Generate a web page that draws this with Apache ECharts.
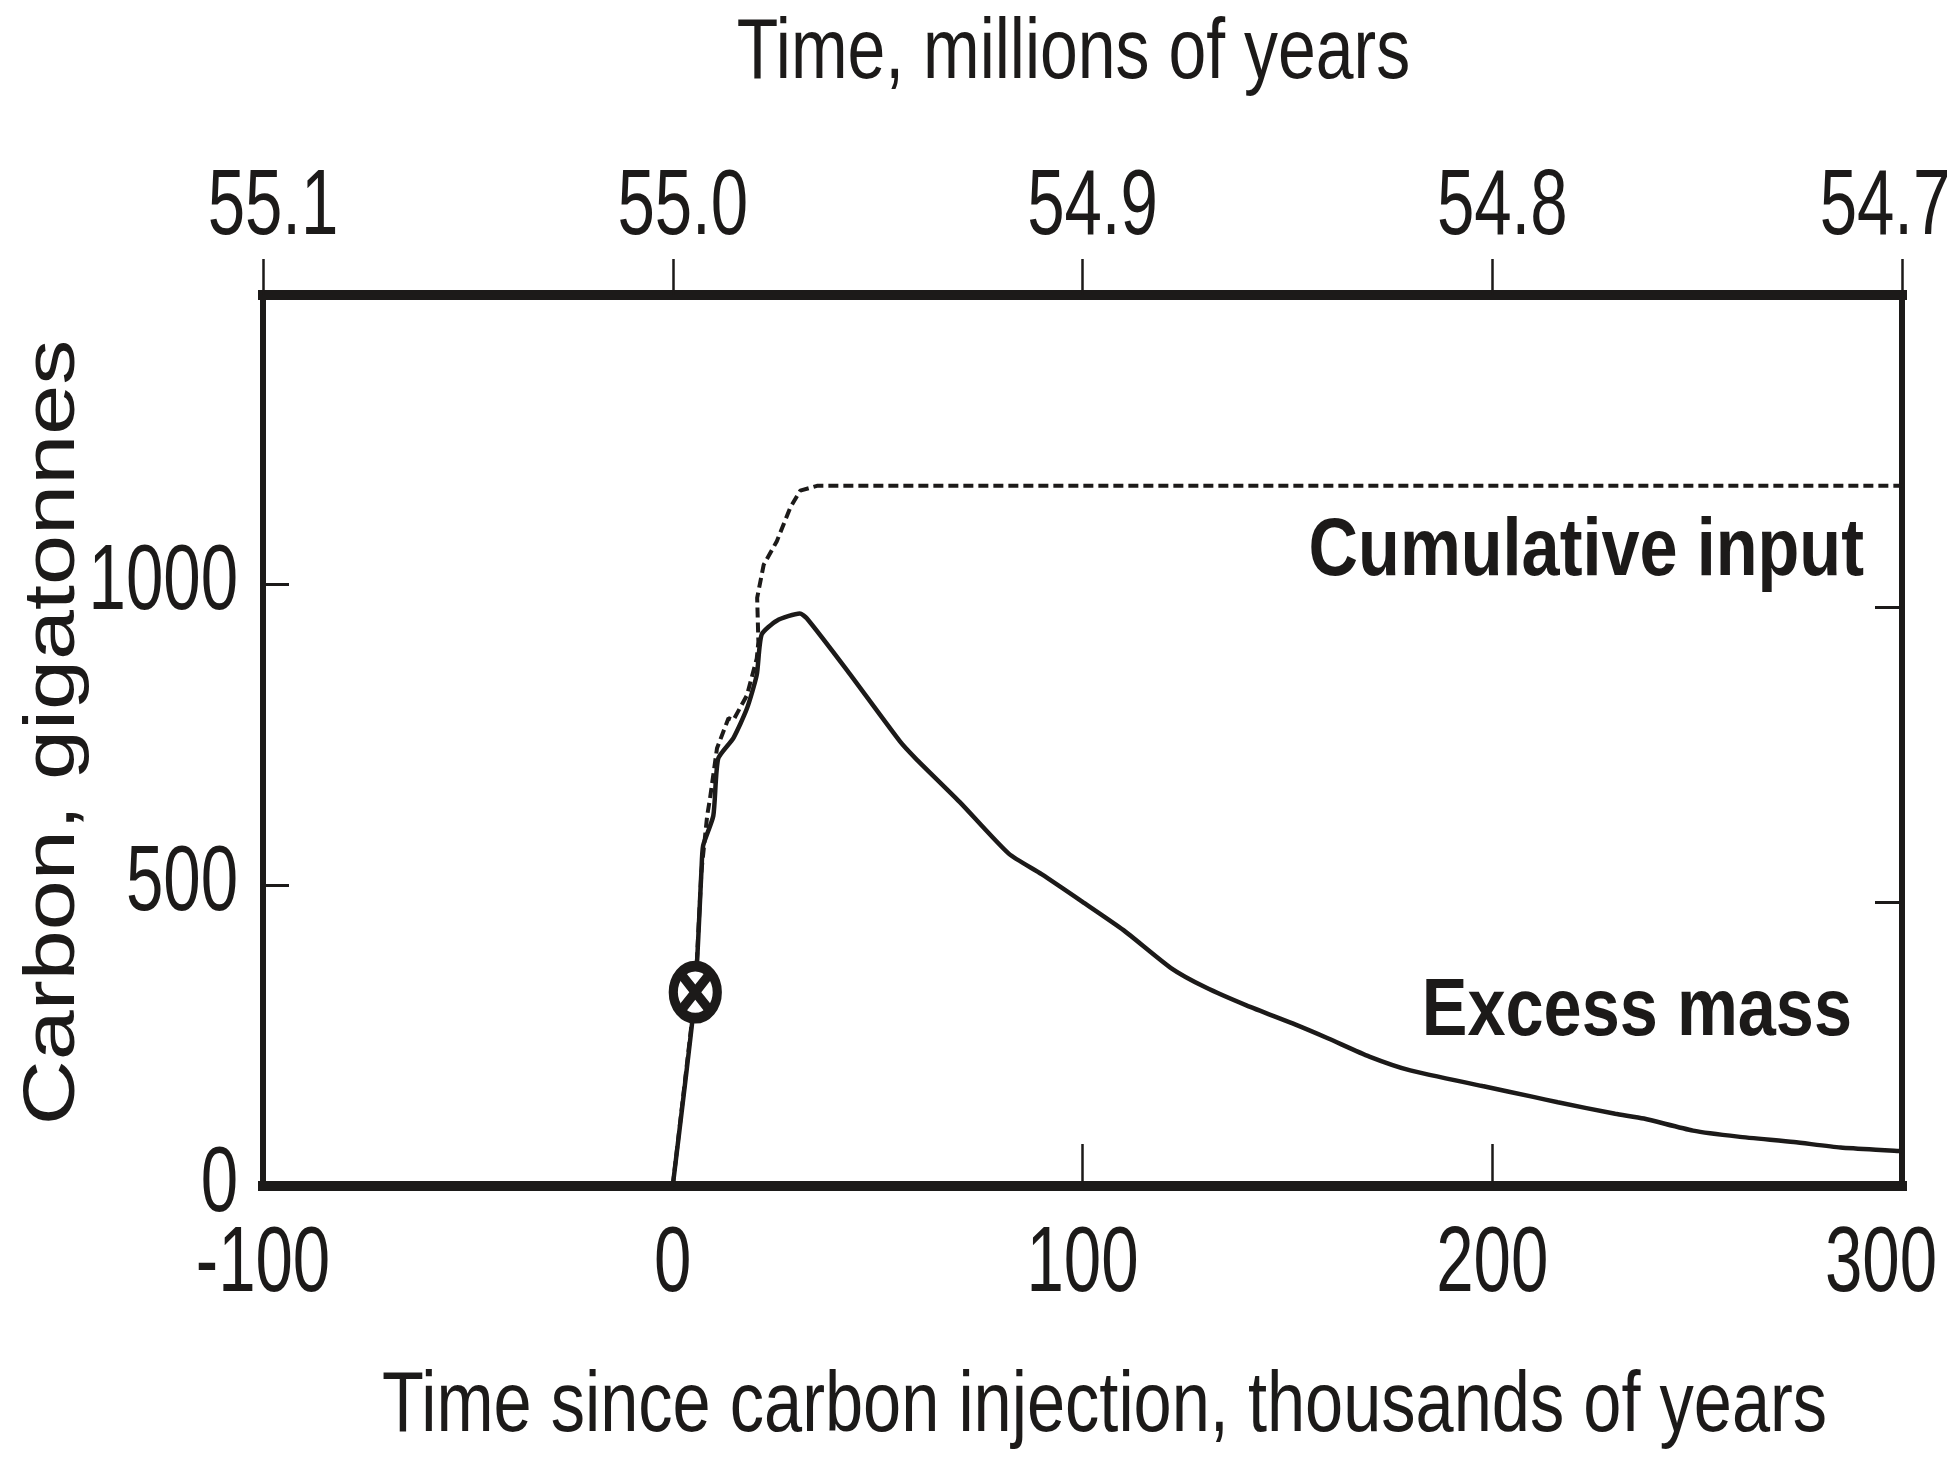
<!DOCTYPE html>
<html>
<head>
<meta charset="utf-8">
<title>Carbon, gigatonnes</title>
<script src="https://cdn.jsdelivr.net/npm/echarts@6/dist/echarts.min.js"></script>
<style>
  html, body { margin: 0; padding: 0; background: #fff; }
  #chart { width: 1953px; height: 1458px; }
</style>
</head>
<body>
<div id="chart"></div>
<script>
// time since injection (kyr) and carbon (Gt)
var excessT = [0, 3, 5.5, 7, 7.4, 9.9, 11.1, 14.8, 18.1, 20.5, 21.7, 25.4, 31, 32.7, 42.6, 55.5, 59.3, 70, 82, 90, 100, 110, 121.6, 130, 140, 152, 160, 170, 180, 197.6, 210, 216, 230, 237, 249, 260, 273.6, 285, 300];
var excessC = [0, 170, 322, 523, 565, 615, 710, 744, 793, 849, 916, 939, 951, 943, 856, 738, 710, 638, 552, 518, 472, 425, 362, 330, 300, 268, 245, 215, 192, 166, 148, 139, 120, 112, 92, 82, 73, 64, 58];

var cumT = [0, 5.5, 7, 8.4, 9.1, 10.8, 13.6, 14.8, 18.1, 20.5, 20.9, 20.6, 22.2, 25.4, 28.7, 31.1, 35.2, 300];
var cumC = [0, 322, 523, 615, 644, 727, 777, 774, 815, 876, 904, 977, 1032, 1071, 1127, 1155, 1163, 1163];

var markerT = [5.5];
var markerC = [322];

var bottomTicks = [-100, 0, 100, 200, 300];
var topTickLabels = ["55.1", "55.0", "54.9", "54.8", "54.7"];
var leftTicks = [0, 500, 1000];
var rightTicks = [471, 962];

function zip(a, b) {
  var out = [];
  for (var i = 0; i < a.length; i++) out.push([a[i], b[i]]);
  return out;
}

window.onload = function () {
  var ink = "#1c1a19";
  var sans = "'Liberation Sans', Arial, sans-serif";
  var myChart = echarts.init(document.getElementById("chart"));

  var option = {
    backgroundColor: "#fff",
    animation: false,
    grid: { left: 263, right: 51, top: 295, bottom: 272, outerBoundsMode: "none" },
    xAxis: [
      {
        type: "value",
        position: "bottom",
        min: -100,
        max: 300,
        interval: 100,
        axisLine: { onZero: false, lineStyle: { color: ink, width: 10, cap: "square" } },
        axisTick: { inside: true, length: 42, customValues: [100, 200], lineStyle: { color: ink, width: 2.5 } },
        axisLabel: { show: false },
        splitLine: { show: false },
      },
      {
        type: "value",
        position: "top",
        min: -100,
        max: 300,
        interval: 100,
        axisLine: { onZero: false, lineStyle: { color: ink, width: 10, cap: "square" } },
        axisTick: { inside: false, length: 36, lineStyle: { color: ink, width: 2.5 } },
        axisLabel: { show: false },
        splitLine: { show: false },
      },
    ],
    yAxis: [
      {
        type: "value",
        position: "left",
        min: 0,
        max: 1480,
        interval: 500,
        axisLine: { onZero: false, lineStyle: { color: ink, width: 6, cap: "square" } },
        axisTick: { inside: true, length: 26, customValues: [500, 1000], lineStyle: { color: ink, width: 3 } },
        axisLabel: { show: false },
        splitLine: { show: false },
      },
      {
        type: "value",
        position: "right",
        min: 0,
        max: 1480,
        axisLine: { onZero: false, lineStyle: { color: ink, width: 6, cap: "square" } },
        axisTick: { inside: true, length: 27, customValues: rightTicks, lineStyle: { color: ink, width: 3 } },
        axisLabel: { show: false },
        splitLine: { show: false },
      },
    ],
    series: [
      {
        name: "Cumulative input",
        type: "line",
        data: zip(cumT, cumC),
        showSymbol: false,
        lineStyle: { color: ink, width: 4, type: [10, 5] },
        z: 3,
      },
      {
        name: "Excess mass",
        type: "line",
        data: zip(excessT, excessC),
        showSymbol: false,
        smooth: 0.2,
        lineStyle: { color: ink, width: 4.5 },
        z: 4,
      },
      {
        type: "scatter",
        data: zip(markerT, markerC),
        symbol: "circle",
        symbolSize: [44, 52],
        itemStyle: { color: "#fff", borderColor: ink, borderWidth: 10, opacity: 1 },
        z: 5,
      },
      {
        type: "scatter",
        data: zip(markerT, markerC),
        symbol: "path://M0,0 L4,0 L10,6 L16,0 L20,0 L20,4 L14,10 L20,16 L20,20 L16,20 L10,14 L4,20 L0,20 L0,16 L6,10 L0,4 Z",
        symbolSize: [30, 38],
        itemStyle: { color: ink, opacity: 1 },
        z: 6,
      },
    ],
  };
  myChart.setOption(option);

  // tick labels and titles in a condensed face (Arial Narrow look), placed from the axes
  var W = myChart.getWidth();
  var px = function (v) { return myChart.convertToPixel({ xAxisIndex: 0 }, v); };
  var py = function (v) { return myChart.convertToPixel({ yAxisIndex: 0 }, v); };
  var x0 = px(-100), x1 = px(300), y0 = py(0), y1 = py(1480);

  function label(text, x, y, opts) {
    opts = opts || {};
    return {
      type: "text",
      x: x,
      y: y,
      scaleX: opts.scaleX || 0.73,
      rotation: opts.rotation || 0,
      z: 10,
      style: {
        text: text,
        fontFamily: sans,
        fontSize: opts.size || 92,
        fontWeight: opts.weight || "normal",
        fill: ink,
        align: opts.align || "center",
        verticalAlign: "middle",
      },
    };
  }

  var g = [];
  bottomTicks.forEach(function (v) {
    g.push(label(String(v), Math.min(px(v), W - 72), y0 + 80));
  });
  bottomTicks.forEach(function (v, i) {
    g.push(label(topTickLabels[i], Math.min(px(v) + 10, W - 68), y1 - 86));
  });
  leftTicks.forEach(function (v) {
    g.push(label(String(v), x0 - 25, py(v), { align: "right" }));
  });
  g.push(label("Time, millions of years", (x0 + x1) / 2 - 9, 54, { size: 86, scaleX: 0.79 }));
  g.push(label("Time since carbon injection, thousands of years", (x0 + x1) / 2 + 22, 1407, { size: 86, scaleX: 0.797 }));
  g.push(label("Carbon, gigatonnes", 54, (y0 + y1) / 2 - 8, { size: 72, scaleX: 1.25, rotation: Math.PI / 2 }));
  g.push(label("Cumulative input", 1864, 552, { size: 82, weight: "bold", scaleX: 0.835, align: "right" }));
  g.push(label("Excess mass", 1852, 1012, { size: 82, weight: "bold", scaleX: 0.835, align: "right" }));

  myChart.setOption({ graphic: g });
};
</script>
</body>
</html>
